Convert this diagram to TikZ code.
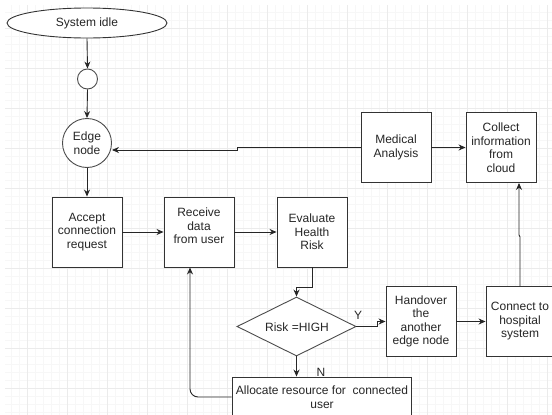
\documentclass[tikz,border=0pt]{standalone}
\usepackage{fontspec}
\setmainfont{Liberation Sans}
\usetikzlibrary{shapes.geometric,arrows.meta}
\begin{document}
\begin{tikzpicture}[x=1pt,y=-1pt,
  every node/.style={font=\fontsize{12}{13.5}\selectfont, text=black!85},
  box/.style={draw=black!80, line width=0.9pt, inner sep=0pt, align=center, minimum width=70pt, minimum height=70pt},
  conn/.style={draw=black!85, line width=0.9pt, -{Stealth[length=7pt,width=6pt]}},
  plain/.style={draw=black!85, line width=0.9pt}
]
\useasboundingbox (0,0) rectangle (552,415);
% grid
\fill[white] (0,0) rectangle (552,415);
\foreach \x in {11,19,...,552} \draw[black!3, line width=0.5pt] (\x,5) -- (\x,415);
\foreach \y in {12,20,...,415} \draw[black!3, line width=0.5pt] (5,\y) -- (552,\y);
\foreach \x in {27,67,...,552} \draw[black!8, line width=0.6pt] (\x,5) -- (\x,415);
\foreach \y in {28,68,...,415} \draw[black!8, line width=0.6pt] (5,\y) -- (552,\y);

% nodes
\node[draw=black!80, line width=0.9pt, ellipse, minimum width=160pt, minimum height=30pt, inner sep=0pt, fill=white] (idle) at (87,23) {System idle};
\node[draw=black!70, line width=0.9pt, circle, minimum size=20pt, inner sep=0pt, fill=white] (junc) at (87.5,79) {};
\node[draw=black!70, line width=0.9pt, circle, minimum size=49pt, inner sep=0pt, align=center, fill=white] (edge) at (87,143) {Edge\\node};
\node[box, fill=white] (accept) at (87,232) {Accept\\connection\\request};
\node[box, fill=white, label={[align=center, yshift=6pt, font=\fontsize{12}{13.5}\selectfont, text=black!85]center:Receive\\data\\from user}] (recv) at (199,232) {};
\node[box, fill=white] (eval) at (312,232) {Evaluate\\Health\\Risk};
\node[box, fill=white] (med) at (396,147.5) {Medical\\Analysis};
\node[box, fill=white] (coll) at (501,147.5) {Collect\\information\\from\\cloud};
\node[draw=black!70, line width=0.9pt, diamond, minimum width=119pt, minimum height=59pt, inner sep=0pt, fill=white] (risk) at (296.5,326.5) {};
\node at (297,327) {Risk =HIGH};
\node[box, fill=white] (hand) at (421,321.5) {Handover\\the\\another\\edge node};
\node[box, fill=white, minimum width=68pt] (hosp) at (520,321.5) {Connect to\\hospital\\system};
\node[draw=black!80, line width=0.9pt, minimum width=179pt, minimum height=50pt, inner sep=0pt, fill=white] (alloc) at (321.5,402) {};
\node[align=center] (alloctext) at (322,397) {Allocate resource for\ \ connected\\user};

\coordinate (e1) at (312,287);
\coordinate (e2) at (296.5,287);
\coordinate (y1) at (377,326.5);
\coordinate (y2) at (377,321.5);
\coordinate (c1) at (520,237);
\coordinate (c2) at (519,235);
\coordinate (m1) at (237,147.5);
\coordinate (m2) at (237,150);
\coordinate (a1) at (190,397);

% connectors
\draw[conn] (idle.south) -- (junc.north);
\draw[conn] (junc.south) -- (edge.north);
\draw[conn] (edge.south) -- (accept.north);
\draw[conn] (accept.east) -- (recv.west);
\draw[conn] (recv.east) -- (eval.west);
\draw[conn] (eval.south) -- (e1) -- (e2) -- (risk.north);
\draw[conn] (risk.east) -- (y1) -- (y2) -- (hand.west);
\draw[conn] (hand.east) -- (hosp.west);
\draw[conn] (hosp.north) -- (c1) -- (c2) -- (coll.south -| c2);
\draw[conn] (med.west) -- (m1) -- (m2) -- (edge.east |- m2);
\draw[conn] (med.east) -- (coll.west);
\draw[conn] (risk.south) -- (alloc.north -| risk.south);
\draw[conn, rounded corners=8pt] (alloc.west |- a1) -- (a1) -- (recv.south -| a1);

\node at (358,315) {Y};
\node at (321,372) {N};
\end{tikzpicture}
\end{document}
